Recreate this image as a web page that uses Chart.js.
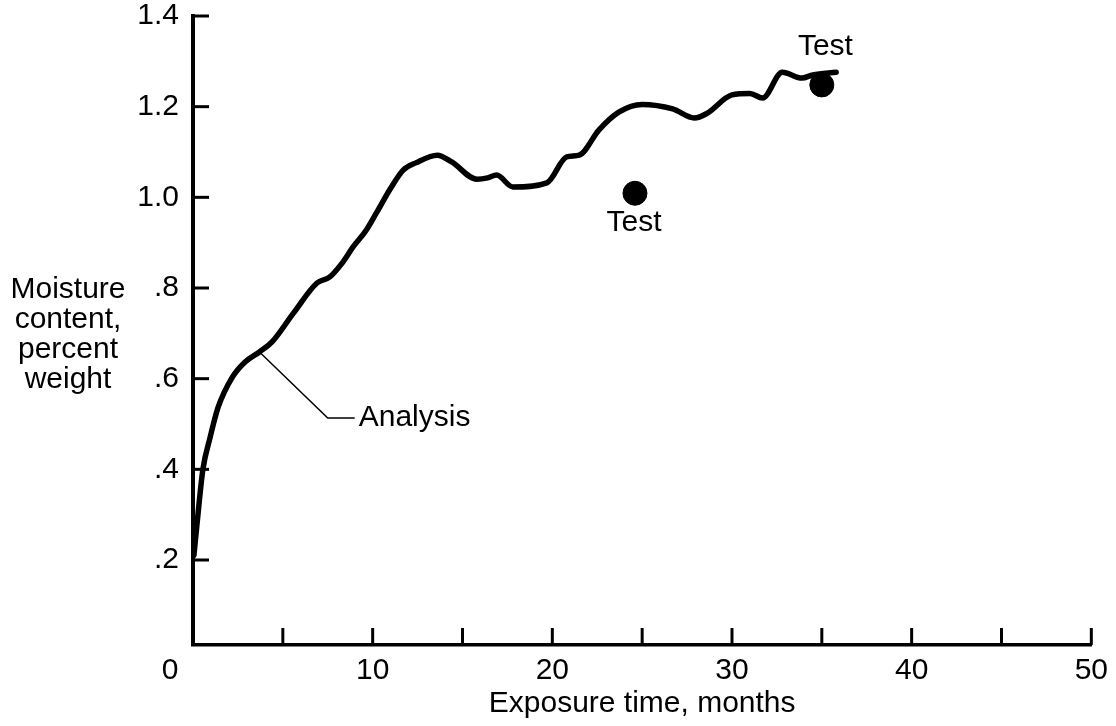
<!DOCTYPE html>
<html>
<head>
<meta charset="utf-8">
<script src="https://cdn.jsdelivr.net/npm/chart.js@4.4.1/dist/chart.umd.min.js"></script>
<style>
	html, body { margin: 0; padding: 0; background: #fff; }
	canvas { display: block; }
</style>
</head>
<body>
<canvas id="chart" width="1116" height="726"></canvas>
<script>
// analysis curve
var months = [0.05, 0.3, 0.55, 0.95, 1.4, 2.2, 2.9, 3.7, 4.4, 5.6, 6.9, 7.6, 8.3, 8.9, 9.65, 10.2, 11.0, 11.7, 12.4, 13.6, 14.4, 15.8, 16.4, 16.9, 17.8, 19.7, 20.8, 21.5, 22.6, 23.7, 25.0, 26.7, 27.9, 28.6, 30.0, 31.0, 31.7, 32.8, 33.9, 34.5, 35.8];
var moisture = [0.21, 0.31, 0.40, 0.47, 0.537, 0.604, 0.637, 0.659, 0.681, 0.745, 0.811, 0.824, 0.855, 0.89, 0.928, 0.965, 1.02, 1.06, 1.076, 1.093, 1.078, 1.04, 1.043, 1.049, 1.023, 1.032, 1.089, 1.093, 1.149, 1.188, 1.205, 1.195, 1.175, 1.185, 1.226, 1.229, 1.219, 1.276, 1.263, 1.27, 1.276];

// test points
var testMonths = [24.6, 35.0];
var testMoisture = [1.009, 1.248];

var xTicks = [0, 5, 10, 15, 20, 25, 30, 35, 40, 45, 50];
var yTicks = [0.2, 0.4, 0.6, 0.8, 1.0, 1.2, 1.4];
var yTitleLines = ['Moisture', 'content,', 'percent', 'weight'];

var FONT = '"Liberation Sans", Arial, Helvetica, sans-serif';
var FONT_SIZE = 30;

// callouts, in data units
var notes = {
	analysis: { from: [3.7, 0.659], bend: [7.5, 0.513], to: [9.0, 0.513], text: 'Analysis' },
	tests: [
		{ at: [24.55, 0.945], text: 'Test' },
		{ at: [35.2, 1.332], text: 'Test' }
	]
};

var extras = {
	id: 'extras',
	afterDraw: function(chart){
		var ctx = chart.ctx;
		var x = chart.scales.x, y = chart.scales.y;
		var area = chart.chartArea;

		ctx.save();
		ctx.strokeStyle = '#000';
		ctx.fillStyle = '#000';
		ctx.lineCap = 'butt';

		// inward tick marks
		ctx.lineWidth = 3;
		xTicks.forEach(function(v){
			if(v === 0) return;
			var px = x.getPixelForValue(v);
			ctx.beginPath();
			ctx.moveTo(px, area.bottom);
			ctx.lineTo(px, area.bottom - 17);
			ctx.stroke();
		});
		yTicks.forEach(function(v){
			var py = y.getPixelForValue(v);
			ctx.beginPath();
			ctx.moveTo(area.left, py);
			ctx.lineTo(area.left + 16, py);
			ctx.stroke();
		});

		ctx.font = FONT_SIZE + 'px ' + FONT;
		ctx.textBaseline = 'middle';

		// origin label
		ctx.textAlign = 'center';
		ctx.fillText('0', x.getPixelForValue(0) - 23, area.bottom + 26);

		// y title
		yTitleLines.forEach(function(line, i){
			ctx.fillText(line, 68, 290 + i * 30);
		});

		// analysis leader
		var a = notes.analysis;
		ctx.lineWidth = 1.5;
		ctx.beginPath();
		ctx.moveTo(x.getPixelForValue(a.from[0]), y.getPixelForValue(a.from[1]));
		ctx.lineTo(x.getPixelForValue(a.bend[0]), y.getPixelForValue(a.bend[1]));
		ctx.lineTo(x.getPixelForValue(a.to[0]), y.getPixelForValue(a.to[1]));
		ctx.stroke();
		ctx.textAlign = 'left';
		ctx.fillText(a.text, x.getPixelForValue(a.to[0]) + 4, y.getPixelForValue(a.to[1]));

		ctx.textAlign = 'center';
		notes.tests.forEach(function(t){
			ctx.fillText(t.text, x.getPixelForValue(t.at[0]), y.getPixelForValue(t.at[1]));
		});

		ctx.restore();
	}
};

var chart = new Chart(document.getElementById('chart').getContext('2d'), {
	type: 'line',
	data: {
		datasets: [
			{
				label: 'Analysis',
				data: months.map(function(m, i){ return { x: m, y: moisture[i] }; }),
				borderColor: '#000',
				borderWidth: 5.5,
				borderCapStyle: 'round',
				borderJoinStyle: 'round',
				cubicInterpolationMode: 'monotone',
				pointRadius: 0,
				fill: false
			},
			{
				label: 'Test',
				type: 'scatter',
				data: testMonths.map(function(m, i){ return { x: m, y: testMoisture[i] }; }),
				backgroundColor: '#000',
				borderColor: '#000',
				pointRadius: 12,
				showLine: false
			}
		]
	},
	options: {
		responsive: false,
		animation: false,
		devicePixelRatio: 1,
		layout: { padding: { left: 0, right: 23, top: 0, bottom: 0 } },
		plugins: {
			legend: { display: false },
			tooltip: { enabled: false }
		},
		scales: {
			x: {
				type: 'linear',
				min: 0,
				max: 50,
				afterBuildTicks: function(scale){
					scale.ticks = xTicks.map(function(v){ return { value: v }; });
				},
				afterFit: function(scale){ scale.height = 81; },
				grid: { display: false, drawTicks: false },
				border: { display: true, color: '#000', width: 3.5 },
				ticks: {
					padding: 8,
					color: '#000',
					font: { family: FONT, size: FONT_SIZE },
					maxRotation: 0,
					autoSkip: false,
					callback: function(v){ return v % 10 === 0 && v !== 0 ? String(v) : ''; }
				},
				title: {
					display: true,
					text: 'Exposure time, months',
					color: '#000',
					font: { family: FONT, size: FONT_SIZE },
					padding: { top: 0, bottom: 4 }
				}
			},
			y: {
				type: 'linear',
				min: 0.0125,
				max: 1.4,
				afterBuildTicks: function(scale){
					scale.ticks = yTicks.map(function(v){ return { value: v }; });
				},
				afterFit: function(scale){
					scale.width = 193;
					scale.paddingTop = 16;
				},
				grid: { display: false, drawTicks: false },
				border: { display: true, color: '#000', width: 4 },
				ticks: {
					padding: 14,
					color: '#000',
					font: { family: FONT, size: FONT_SIZE },
					callback: function(v){
						var s = Number(v).toFixed(1);
						return v < 1 ? s.replace(/^0/, '') : s;
					}
				}
			}
		}
	},
	plugins: [extras]
});
</script>
</body>
</html>
